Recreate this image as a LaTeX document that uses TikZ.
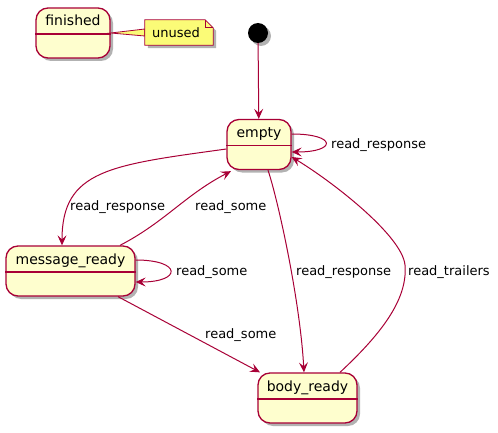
\documentclass[tikz,border=0pt]{standalone}
\usepackage{fontspec}
\setmainfont{DejaVu Sans}
\usetikzlibrary{arrows.meta,shadows}
\definecolor{stfill}{HTML}{FEFECE}
\definecolor{stline}{HTML}{A80036}
\definecolor{notefill}{HTML}{FBFB77}
\tikzset{
  shad/.style={drop shadow={shadow xshift=3pt,shadow yshift=-3pt,opacity=0.3,fill=black}},
  statebox/.style={draw=stline, fill=stfill, line width=1.3pt, rounded corners=12pt,
    minimum height=50pt, inner sep=2pt, text height=10pt, text depth=24pt,
    font=\fontsize{14}{16}\selectfont, shad},
  divline/.style={draw=stline, line width=1.3pt},
  edge/.style={draw=stline, line width=1pt, -{Stealth[length=10pt,width=9pt,inset=4pt]}},
  lbl/.style={font=\fontsize{13}{15}\selectfont, inner sep=0pt, anchor=west},
  notebox/.style={draw=stline, fill=notefill, line width=0.8pt}
}
\begin{document}
\begin{tikzpicture}[x=1pt,y=-1pt]
\useasboundingbox (0,0) rectangle (498,433);

% states
\node[statebox, minimum width=74pt] (finished) at (73,33) {finished};
\node[statebox, minimum width=64pt] (empty) at (259,144.5) {empty};
\node[statebox, minimum width=129pt] (msg) at (70.5,271) {message\_ready};
\node[statebox, minimum width=99pt] (body) at (307.5,398) {body\_ready};
\foreach \s in {finished,empty,msg,body}{
  \draw[divline] ([yshift=-1pt]\s.west) -- ([yshift=-1pt]\s.east);
}

% initial
\node[circle, fill=black, minimum size=20pt, inner sep=0pt, shad] (start) at (258,33) {};

% note
\node[inner sep=0pt, minimum width=68pt, minimum height=25pt, font=\fontsize{13}{15}\selectfont] (unused) at (179,32.5) {};
\filldraw[notebox] (finished.east) -- ([yshift=3.5pt]unused.west) -- ([yshift=-3.5pt]unused.west) -- cycle;
\filldraw[notebox, shad] (unused.south west) -- (unused.north west) -- ([xshift=-8pt]unused.north east)
  -- ([yshift=-8pt]unused.north east) -- (unused.south east) -- cycle;
\draw[notebox, fill=none] ([xshift=-8pt]unused.north east) -- ([xshift=-8pt,yshift=-8pt]unused.north east) -- ([yshift=-8pt]unused.north east);
\node[font=\fontsize{13}{15}\selectfont, inner sep=0pt, xshift=-3pt] (unusedtxt) at (unused) {unused};

% edges
\draw[edge] (start) -- (empty);
\draw[edge] ([yshift=10.5pt]empty.east) .. controls (337,134) and (337,152) .. ([yshift=-7.5pt]empty.east);
\node[lbl] (l1) at (331,145) {read\_response};

\draw[edge] ([yshift=-4.5pt]empty.west) .. controls (110,165) and (62,170) .. ([xshift=-8.5pt]msg.north);
\node[lbl] (l2) at (70,207) {read\_response};

\draw[edge] ([xshift=49.5pt]msg.north) .. controls (165,222) and (185,195) .. ([xshift=-28pt,yshift=-1pt]empty.south);
\node[lbl] (l3) at (195,207) {read\_some};

\draw[edge] ([yshift=11pt]msg.east) .. controls (182,260) and (182,282) .. ([yshift=-11pt]msg.east);
\node[lbl] (l4) at (176,272) {read\_some};

\draw[edge] ([xshift=47.5pt]msg.south) -- ([xshift=-47.5pt]body.north);
\node[lbl] (l5) at (205,335) {read\_some};

\draw[edge] ([xshift=9pt]empty.south) .. controls (278,200) and (300,300) .. ([xshift=-3.5pt]body.north);
\node[lbl] (l6) at (296,272) {read\_response};

\draw[edge] ([xshift=32.5pt]body.north) .. controls (380,335) and (408,300) .. (405,265)
  .. controls (402,235) and (330,180) .. ([yshift=-12.5pt]empty.east);
\node[lbl] (l7) at (408,272) {read\_trailers};
\end{tikzpicture}
\end{document}
